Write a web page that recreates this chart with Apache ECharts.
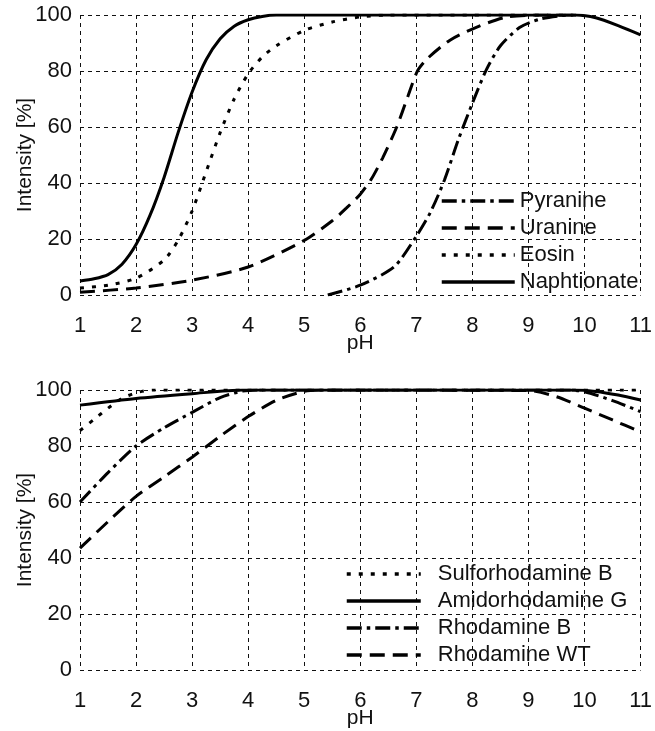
<!DOCTYPE html>
<html>
<head>
<meta charset="utf-8">
<script src="https://cdn.jsdelivr.net/npm/echarts@6/dist/echarts.min.js"></script>
<style>
  html, body { margin: 0; padding: 0; background: #fff; }
  #chart { width: 655px; height: 731px; }
</style>
</head>
<body>
<div id="chart"></div>
<script>
// Fluorescence intensity versus pH for eight tracer dyes

// Upper panel
const pyraninePH = [5.42, 6, 6.6, 7, 7.25, 7.5, 7.75, 8, 8.25, 8.5, 8.84, 9.2, 9.6, 9.85];
const pyranineI  = [0, 3.5, 10, 21, 29.5, 41, 55.5, 68.5, 80.5, 89, 95.5, 98.5, 99.8, 100];

const uraninePH = [1, 2, 3, 4, 5, 5.5, 5.75, 6, 6.2, 6.4, 6.65, 6.85, 7.02, 7.2, 7.6, 8.08, 8.6, 9.2, 9.8];
const uranineI  = [1, 2.5, 5.3, 10, 19.5, 26.5, 31, 36, 41.5, 49, 60, 71, 80, 84.5, 91, 95.7, 99.2, 100, 100];

const eosinPH = [1, 1.5, 2, 2.5, 2.75, 3, 3.25, 3.5, 3.75, 4, 4.25, 4.5, 5, 5.5, 6, 6.5, 9.8];
const eosinI  = [2.5, 3.5, 6, 12.5, 19.5, 30, 44, 58, 70, 79, 85, 89, 94.5, 97.5, 99.3, 100, 100];

const naphtionatePH = [1, 1.25, 1.5, 1.75, 2, 2.25, 2.5, 2.75, 3, 3.25, 3.5, 3.75, 4, 4.25, 4.5, 9.85, 10.2, 10.6, 11];
const naphtionateI  = [5, 5.8, 7.3, 11, 18, 28.5, 42, 58, 72.5, 84, 91.5, 96, 98.3, 99.5, 100, 100, 99, 96.2, 92.9];

// Lower panel
const sulforhodaminePH = [1, 1.25, 1.5, 1.75, 2, 2.3, 11];
const sulforhodamineI  = [85.5, 89.5, 93.5, 97, 99, 100, 100];

const amidorhodaminePH = [1, 2, 3, 3.9, 9.8, 10.2, 10.6, 11];
const amidorhodamineI  = [94.6, 97, 98.7, 100, 100, 99.5, 98.2, 96.4];

const rhodamineBPH = [1, 1.5, 2, 2.5, 3, 3.5, 3.9, 4.2, 9.7, 10, 10.5, 11];
const rhodamineBI  = [60, 70.5, 80, 86.5, 92, 97.3, 99.6, 100, 100, 99.4, 96.2, 92.3];

const rhodamineWTPH = [1, 1.5, 2, 2.5, 3, 3.5, 4, 4.5, 5, 5.4, 9, 9.5, 10, 10.5, 11];
const rhodamineWTI  = [43.5, 53, 62, 69, 76, 83.5, 90.5, 96.3, 99.5, 100, 99.8, 97.6, 93.5, 89.3, 85];

const pairs = (xs, ys) => xs.map((x, i) => [x, ys[i]]);

const FONT = 'Liberation Sans';
const INK = '#111';

const dashStyles = {
  solid: 'solid',
  dashed: [15, 8],
  dotted: [4, 8],
  dashDot: [15, 5, 3.5, 5]
};

function xAxis(idx) {
  return {
    gridIndex: idx, type: 'value', min: 1, max: 11, interval: 1,
    name: 'pH', nameLocation: 'middle', nameGap: 38, nameMoveOverlap: false,
    nameTextStyle: { fontFamily: FONT, fontSize: 21, color: INK },
    axisLine: { show: false }, axisTick: { show: false },
    axisLabel: { fontFamily: FONT, fontSize: 22, color: INK, margin: 20 },
    splitLine: { show: true, lineStyle: { color: INK, width: 1, type: [4, 4] } }
  };
}
function yAxis(idx) {
  return {
    gridIndex: idx, type: 'value', min: 0, max: 100, interval: 20,
    name: 'Intensity [%]', nameLocation: 'middle', nameGap: 44, nameMoveOverlap: false,
    nameTextStyle: { fontFamily: FONT, fontSize: 21, color: INK },
    axisLine: { show: false }, axisTick: { show: false },
    axisLabel: { fontFamily: FONT, fontSize: 22, color: INK, margin: 8 },
    splitLine: { show: true, lineStyle: { color: INK, width: 1, type: [4, 4] } }
  };
}
function line(name, xs, ys, dash, idx) {
  return {
    name, type: 'line', xAxisIndex: idx, yAxisIndex: idx,
    data: pairs(xs, ys), smooth: 0.25, symbol: 'none',
    lineStyle: { color: '#000', width: 3, type: dashStyles[dash] },
    itemStyle: { color: '#000' },
    animation: false
  };
}

const legendText = { fontFamily: FONT, fontSize: 22, color: INK, lineHeight: 22 };
const hiddenMarker = { color: 'rgba(0,0,0,0)', borderColor: 'rgba(0,0,0,0)', borderWidth: 0 };

const option = {
  backgroundColor: '#fff',
  animation: false,
  grid: [
    { left: 80, right: 10, top: 15, height: 280 },
    { left: 80, right: 10, top: 390, height: 280 }
  ],
  xAxis: [xAxis(0), xAxis(1)],
  yAxis: [yAxis(0), yAxis(1)],
  legend: [
    {
      orient: 'vertical', left: 440, top: 190, padding: 0,
      itemWidth: 73, itemHeight: 14, itemGap: 5,
      data: ['Pyranine', 'Uranine', 'Eosin', 'Naphtionate'],
      itemStyle: hiddenMarker,
      lineStyle: { width: 3.5 },
      textStyle: Object.assign({ padding: [0, 0, 0, 0] }, legendText),
      selectedMode: false
    },
    {
      orient: 'vertical', left: 345, top: 563, padding: 0,
      itemWidth: 74, itemHeight: 14, itemGap: 5,
      data: ['Sulforhodamine B', 'Amidorhodamine G', 'Rhodamine B', 'Rhodamine WT'],
      itemStyle: hiddenMarker,
      lineStyle: { width: 3.5 },
      textStyle: Object.assign({ padding: [0, 0, 0, 12] }, legendText),
      selectedMode: false
    }
  ],
  series: [
    line('Pyranine', pyraninePH, pyranineI, 'dashDot', 0),
    line('Uranine', uraninePH, uranineI, 'dashed', 0),
    line('Eosin', eosinPH, eosinI, 'dotted', 0),
    line('Naphtionate', naphtionatePH, naphtionateI, 'solid', 0),
    line('Sulforhodamine B', sulforhodaminePH, sulforhodamineI, 'dotted', 1),
    line('Amidorhodamine G', amidorhodaminePH, amidorhodamineI, 'solid', 1),
    line('Rhodamine B', rhodamineBPH, rhodamineBI, 'dashDot', 1),
    line('Rhodamine WT', rhodamineWTPH, rhodamineWTI, 'dashed', 1)
  ]
};

const chart = echarts.init(document.getElementById('chart'), null, { renderer: 'canvas' });
chart.setOption(option);
</script>
</body>
</html>
